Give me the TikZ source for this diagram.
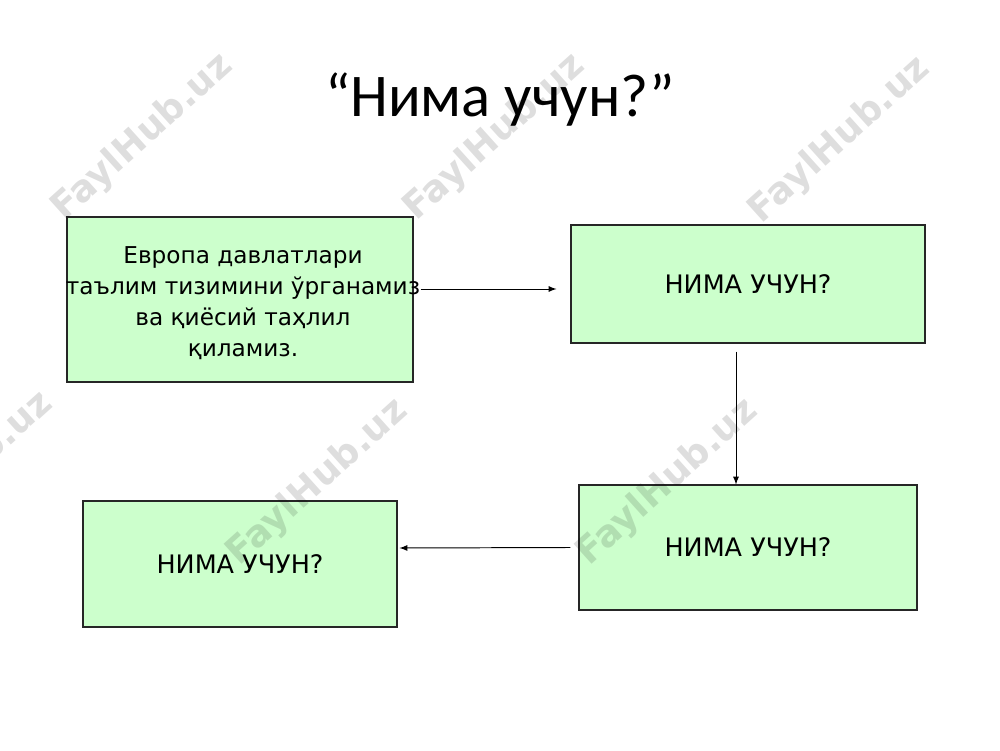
\documentclass[tikz,border=0pt]{standalone}
\usepackage{fontspec}
\setmainfont{DejaVu Sans}
\newfontfamily\titlefont{Carlito}
\usetikzlibrary{arrows,positioning}

\definecolor{boxgreen}{HTML}{CCFFCC}

\tikzset{
	greenbox/.style={rectangle, draw=black!85, line width=0.6pt, fill=boxgreen, inner sep=0pt},
	boxtext/.style={font=\fontsize{14.5}{17.6}\selectfont, align=center, inner sep=0pt},
	flow/.style={->, line width=0.55pt},
	watermark/.style={font=\bfseries\fontsize{21}{21}\selectfont, text=black, text opacity=0.13, rotate=42}
}

\begin{document}
\begin{tikzpicture}[>=latex]
		\useasboundingbox[fill=white] (0,0) rectangle (20,15);

		\node[font=\titlefont\fontsize{34.5}{34.5}\selectfont] (title) at (10,13.0) {“Нима учун?”};

		\node[greenbox, minimum width=6.92cm, minimum height=3.3cm] (a) at (4.8,9.01) {};
		\node[boxtext, font=\fontsize{13.2}{17.6}\selectfont] (atext) at (4.86,8.94) {Европа давлатлари\\таълим тизимини ўрганамиз\\ва қиёсий таҳлил\\қиламиз.};

		\node[greenbox, boxtext, minimum width=7.08cm, minimum height=2.36cm] (b) at (14.96,9.32) {НИМА УЧУН?};
		\node[greenbox, boxtext, minimum width=6.76cm, minimum height=2.5cm] (c) at (14.96,4.05) {НИМА УЧУН?};
		\node[greenbox, boxtext, minimum width=6.28cm, minimum height=2.52cm] (d) at (4.8,3.72) {НИМА УЧУН?};

		\draw[flow] ([xshift=0.14cm,yshift=0.21cm]a.east) -- ([xshift=-0.28cm,yshift=-0.1cm]b.west);
		\draw[flow] ([xshift=-0.24cm,yshift=-0.16cm]b.south) -- ([xshift=-0.24cm]c.north);
		\draw[flow] ([xshift=-0.16cm]c.west) -- ([xshift=0.04cm,yshift=0.32cm]d.east);

		% watermarks over everything
		\foreach \i/\p in {1/{(2.85,12.25)}, 2/{(9.9,12.25)}, 3/{(16.8,12.2)}, 4/{(-0.75,5.5)}, 5/{(6.35,5.35)}, 6/{(13.35,5.35)}}
			\node[watermark] (wm\i) at \p {FaylHub.uz};
	\end{tikzpicture}
\end{document}
